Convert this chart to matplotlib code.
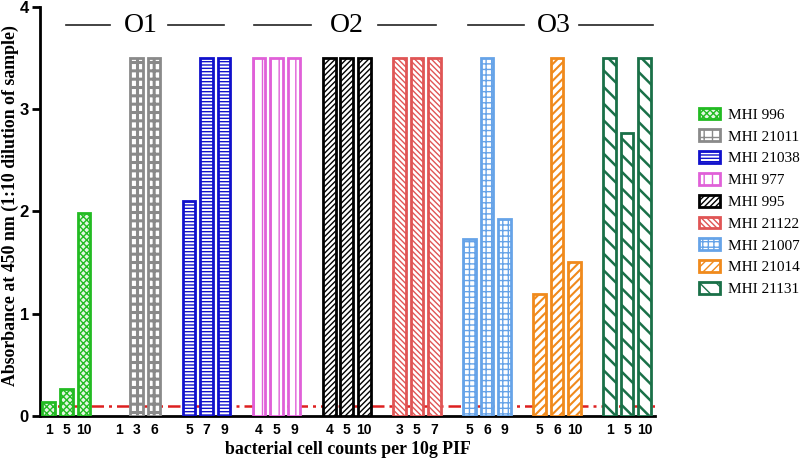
import matplotlib
matplotlib.use("Agg")
import matplotlib.pyplot as plt
from matplotlib.patches import Patch
import numpy as np

strains = ["MHI 996", "MHI 21011", "MHI 21038", "MHI 977", "MHI 995",
           "MHI 21122", "MHI 21007", "MHI 21014", "MHI 21131"]
counts = [[1, 5, 10], [1, 3, 6], [5, 7, 9], [4, 5, 9], [4, 5, 10],
          [3, 5, 7], [5, 6, 9], [5, 6, 10], [1, 5, 10]]
values = [[0.14, 0.26, 1.98], [0.0, 3.5, 3.5], [2.1, 3.5, 3.5],
          [3.5, 3.5, 3.5], [3.5, 3.5, 3.5], [3.5, 3.5, 3.5],
          [1.73, 3.5, 1.93], [1.19, 3.5, 1.51], [3.5, 2.77, 3.5]]
cutoff = 0.1
serotypes = ["O1", "O2", "O3"]

colors = ["#22bb22", "#8a8a8a", "#1010cc", "#e060d8", "#000000",
          "#e05555", "#66a3e8", "#f08a1c", "#1a7048"]
faces = ["#e4f6e4", "white", "white", "white", "white", "white", "white",
         "white", "white"]
hatches = ["xxxxx", "++", "-----", "||", "//////", "\\\\\\\\\\\\",
           "+++", "////", "\\\\"]
hatch_lw = [1.0, 2.2, 1.0, 1.0, 1.0, 1.0, 1.0, 1.5, 1.8]

fig = plt.figure(figsize=(8, 4.61), dpi=100)
ax = fig.add_axes([0.05, 0.0976, 0.769, 0.8875])

xpos_all, xlab_all, handles = [], [], []
for g, (name, cs, vs) in enumerate(zip(strains, counts, values)):
    xs = np.arange(3) + 4 * g
    with plt.rc_context({"hatch.linewidth": hatch_lw[g]}):
        bars = ax.bar(xs, vs, width=0.72, facecolor=faces[g],
                      edgecolor=colors[g], hatch=hatches[g], linewidth=2.0,
                      zorder=3)
        for b in bars:
            if hasattr(b, "set_hatch_linewidth"):
                b.set_hatch_linewidth(hatch_lw[g])
            if b.get_height() <= 0:
                b.set_visible(False)
        h = Patch(facecolor=faces[g], edgecolor=colors[g], hatch=hatches[g],
                  linewidth=2.0, label=name)
        if hasattr(h, "set_hatch_linewidth"):
            h.set_hatch_linewidth(hatch_lw[g])
        handles.append(h)
    xpos_all.extend(xs)
    xlab_all.extend([str(c) for c in cs])

ax.axhline(cutoff, color="#dd2020", linestyle=(0, (5, 2, 1.2, 2)),
           linewidth=1.8, zorder=2)

ax.set_xlim(-0.5, 34.6)
ax.set_ylim(0, 4)
ax.set_yticks([0, 1, 2, 3, 4])
ax.set_yticklabels(["0", "1", "2", "3", "4"], fontfamily="Liberation Sans",
                   fontweight="bold", fontsize=12)
ax.set_xticks(xpos_all)
ax.set_xticklabels(xlab_all, fontfamily="Liberation Sans", fontweight="bold",
                   fontsize=10)
ax.tick_params(axis="x", length=0, pad=5)
ax.tick_params(axis="y", length=6, width=2, pad=2)
for s in ["top", "right"]:
    ax.spines[s].set_visible(False)
for s in ["left", "bottom"]:
    ax.spines[s].set_linewidth(2)

ax.set_ylabel("Absorbance at 450 nm (1:10 dilution of sample)",
              fontfamily="Liberation Serif", fontweight="bold", fontsize=12.8)
ax.yaxis.set_label_coords(-0.034, 0.515)
ax.set_xlabel("bacterial cell counts per 10g PIF",
              fontfamily="Liberation Serif", fontweight="bold", fontsize=12.8,
              labelpad=3)

# serotype annotations
ann_y = 3.82
ann = [(0.97, 3.48, 5.28, 6.79, 9.98), (11.69, 14.95, 17.03, 18.77, 22.08),
       (23.90, 27.10, 28.81, 30.23, 34.45)]
for lab, (a, b, c, d, e) in zip(serotypes, ann):
    ax.plot([a, b], [ann_y, ann_y], color="#222222", lw=1.2, clip_on=False)
    ax.plot([d, e], [ann_y, ann_y], color="#222222", lw=1.2, clip_on=False)
    ax.text(c, ann_y, lab, ha="center", va="center",
            fontfamily="Liberation Serif", fontsize=20)

leg = fig.legend(handles=handles, loc="center left",
                 bbox_to_anchor=(0.870, 0.562),
                 frameon=False, prop={"family": "Liberation Serif", "size": 11},
                 handlelength=1.4, handleheight=0.8, labelspacing=0.5,
                 handletextpad=0.5, borderaxespad=0, borderpad=0.2)

fig.savefig("out.png", dpi=100)
